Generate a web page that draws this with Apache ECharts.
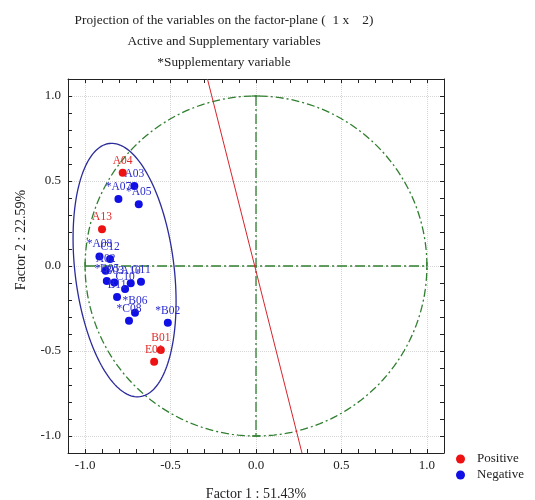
<!DOCTYPE html>
<html><head><meta charset="utf-8">
<script src="https://cdn.jsdelivr.net/npm/echarts@6/dist/echarts.min.js"></script>
<style>html,body{margin:0;padding:0;background:#fff}#c{width:535px;height:500px}</style>
</head><body><div id="c"></div>
<script>
// ---- text ----
const titleLines = ['Projection of the variables on the factor-plane (  1 x    2)', 'Active and Supplementary variables', '*Supplementary variable'];
const xAxisName = 'Factor 1 : 51.43%';
const yAxisName = 'Factor 2 : 22.59%';
const tickLabelValues = [-1.0, -0.5, 0.0, 0.5, 1.0];
const legendNames = ['Positive', 'Negative'];

// ---- data ----
const positiveNames = ['A04', 'A13', 'B01', 'E01'];
const positiveX = [-0.780, -0.901, -0.557, -0.596];
const positiveY = [0.549, 0.216, -0.494, -0.563];

const negativeNames = ['A03', '*A07', '*A05', '*A08', 'C12', 'A02', '*B05', 'B03', 'A10', 'G11', 'C10', 'B11', '*B06', '*C08', '*B02'];
const negativeX = [-0.712, -0.805, -0.686, -0.916, -0.854, -0.880, -0.873, -0.829, -0.733, -0.673, -0.766, -0.813, -0.708, -0.743, -0.516];
const negativeY = [0.471, 0.394, 0.363, 0.056, 0.041, -0.028, -0.088, -0.097, -0.102, -0.092, -0.135, -0.182, -0.275, -0.322, -0.334];

// confidence ellipse: centre x, centre y, semi-axis (minor), semi-axis (major), tilt in degrees
const ellipseParams = [-0.769, -0.024, 0.29, 0.75, 6.8];
// unit circle: centre x, centre y, radius
const circleParams = [0, 0, 1];
// separating line end points
const separatorLine = [[-0.284, 1.1], [0.269, -1.1]];

// ---- styles ----
const serif = '"Liberation Serif","Times New Roman",serif';
const green = '#2f7f2f';
const blue = '#0f0fe6';
const red = '#ee1111';

function pts(name, xs, ys) {
  return name.map((n, i) => ({ name: n, value: [xs[i], ys[i]] }));
}

const axisLineStyle = { color: '#222', width: 1 };
function frameAxis(pos) {
  return {
    type: 'value', position: pos, min: -1.1, max: 1.1, interval: 0.1,
    axisLine: { show: true, onZero: false, lineStyle: axisLineStyle },
    axisTick: { show: true, inside: true, length: 4, lineStyle: axisLineStyle },
    axisLabel: { show: false }, splitLine: { show: false }
  };
}
function mainAxis(pos, isX) {
  return {
    type: 'value', position: pos, min: -1.1, max: 1.1, interval: 0.1,
    name: isX ? xAxisName : yAxisName,
    nameLocation: 'middle',
    nameGap: isX ? 34 : 40,
    nameTextStyle: isX ? { fontFamily: serif, fontSize: 14, color: '#222' }
                       : { fontFamily: serif, fontSize: 14, color: '#222', padding: [0, 0, 0, 52] },
    axisLine: { show: true, onZero: false, lineStyle: axisLineStyle },
    axisTick: { show: true, inside: true, length: 4, lineStyle: axisLineStyle },
    axisLabel: {
      customValues: tickLabelValues, formatter: v => Number(v).toFixed(1),
      fontFamily: serif, fontSize: 13, color: '#222', margin: isX ? 6 : 7
    },
    splitLine: { show: true, lineStyle: { type: 'dotted', width: 1, color: ['transparent', '#d6d6d6', 'transparent', 'transparent', 'transparent'] } }
  };
}

function ringPoints(api, cx, cy, rx, ry, tiltDeg) {
  const t = tiltDeg * Math.PI / 180, out = [];
  for (let i = 0; i <= 180; i++) {
    const a = i / 180 * 2 * Math.PI;
    const ux = rx * Math.cos(a), uy = ry * Math.sin(a);
    out.push(api.coord([cx + ux * Math.cos(t) - uy * Math.sin(t), cy + ux * Math.sin(t) + uy * Math.cos(t)]));
  }
  return out;
}

const labelStyle = (c) => ({
  show: true, position: 'top', distance: 2, formatter: '{b}',
  fontFamily: serif, fontSize: 11.5, color: c
});

const option = {
  animation: false,
  backgroundColor: '#fff',
  title: {
    text: titleLines.join('\n'), left: 219, top: 5, textAlign: 'center',
    textStyle: { fontFamily: serif, fontSize: 13.3, fontWeight: 'normal', color: '#222', lineHeight: 21 }
  },
  legend: {
    data: legendNames, orient: 'vertical', left: 451, top: 447, icon: 'circle',
    itemWidth: 9, itemHeight: 9, itemGap: 2,
    textStyle: { fontFamily: serif, fontSize: 13, color: '#222', padding: [0, 0, 0, 7], lineHeight: 14 }
  },
  grid: { left: 68, right: 91, top: 79, bottom: 47, containLabel: false, outerBoundsMode: 'none' },
  xAxis: [mainAxis('bottom', true), frameAxis('top')],
  yAxis: [mainAxis('left', false), frameAxis('right')],
  series: [
    {
      type: 'custom', name: 'circle', silent: true, z: 1, data: [circleParams],
      renderItem(params, api) {
        const p = ringPoints(api, api.value(0), api.value(1), api.value(2), api.value(2), 0);
        return { type: 'polyline', shape: { points: p }, style: { fill: 'none', stroke: green, lineWidth: 1.3, lineDash: [8, 3, 2, 3] } };
      }
    },
    {
      type: 'custom', name: 'axes', silent: true, z: 1, data: [circleParams],
      renderItem(params, api) {
        const r = api.value(2), cx = api.value(0), cy = api.value(1);
        const L = api.coord([cx - r, cy]), R = api.coord([cx + r, cy]);
        const T = api.coord([cx, cy + r]), B = api.coord([cx, cy - r]);
        const st = { stroke: green, lineWidth: 1.3, lineDash: [10, 3, 2, 3] };
        const cap = { stroke: green, lineWidth: 1.3 };
        return { type: 'group', children: [
          { type: 'line', shape: { x1: L[0], y1: L[1], x2: R[0], y2: R[1] }, style: st },
          { type: 'line', shape: { x1: T[0], y1: T[1], x2: B[0], y2: B[1] }, style: st },
          { type: 'line', shape: { x1: L[0], y1: L[1] - 4, x2: L[0], y2: L[1] + 4 }, style: cap },
          { type: 'line', shape: { x1: R[0], y1: R[1] - 4, x2: R[0], y2: R[1] + 4 }, style: cap },
          { type: 'line', shape: { x1: T[0] - 4, y1: T[1], x2: T[0] + 4, y2: T[1] }, style: cap },
          { type: 'line', shape: { x1: B[0] - 4, y1: B[1], x2: B[0] + 4, y2: B[1] }, style: cap }
        ] };
      }
    },
    {
      type: 'line', name: 'separator', silent: true, z: 2, data: separatorLine,
      symbol: 'none', lineStyle: { color: '#d8232a', width: 1 }
    },
    {
      type: 'custom', name: 'ellipse', silent: true, z: 2, data: [ellipseParams],
      renderItem(params, api) {
        const p = ringPoints(api, api.value(0), api.value(1), api.value(2), api.value(3), api.value(4));
        return { type: 'polyline', shape: { points: p }, style: { fill: 'none', stroke: '#2b2b9c', lineWidth: 1.3 } };
      }
    },
    {
      type: 'scatter', name: 'Negative', z: 5, symbolSize: 8,
      itemStyle: { color: blue, opacity: 1 }, label: labelStyle('#2a2ad0'),
      data: pts(negativeNames, negativeX, negativeY)
    },
    {
      type: 'scatter', name: 'Positive', z: 6, symbolSize: 8,
      itemStyle: { color: red, opacity: 1 }, label: labelStyle('#e62a2a'),
      data: pts(positiveNames, positiveX, positiveY)
    }
  ]
};
const chart = echarts.init(document.getElementById('c'), null, { renderer: 'canvas' });
chart.setOption(option);
</script></body></html>
